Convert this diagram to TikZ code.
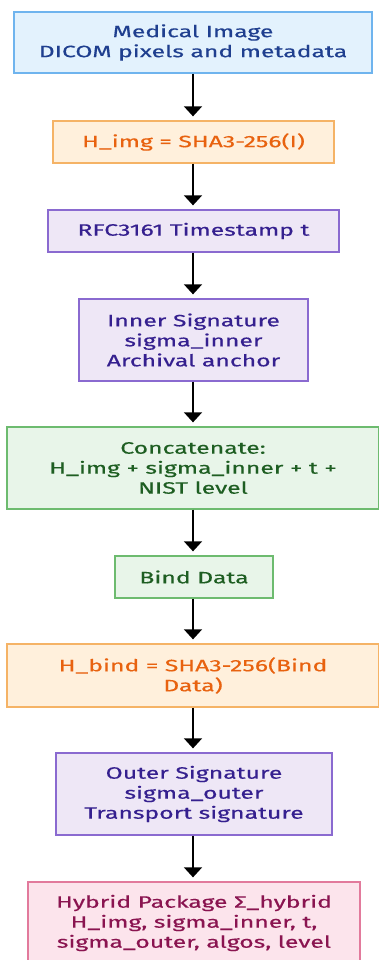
\documentclass[tikz,border=0pt]{standalone}
\usepackage{fontspec}
\setmainfont[FakeStretch=1.5,FakeBold=0.35]{Fira Sans}
\usetikzlibrary{arrows.meta}
\definecolor{bluefill}{HTML}{E3F2FD}
\definecolor{blueline}{HTML}{6FB4EE}
\definecolor{bluetext}{HTML}{1F3F8F}
\definecolor{orfill}{HTML}{FFF0DC}
\definecolor{orline}{HTML}{F5B366}
\definecolor{ortext}{HTML}{E8620F}
\definecolor{pufill}{HTML}{EEE7F6}
\definecolor{puline}{HTML}{8A6AD0}
\definecolor{putext}{HTML}{35208F}
\definecolor{grfill}{HTML}{E8F5E9}
\definecolor{grline}{HTML}{6DBB6F}
\definecolor{grtext}{HTML}{1E5E22}
\definecolor{pkfill}{HTML}{FCE4EC}
\definecolor{pkline}{HTML}{E27A9C}
\definecolor{pktext}{HTML}{8A1450}
\tikzset{
  box/.style={draw, line width=1.3pt, align=center, inner sep=0pt,
    font=\fontsize{16.5}{20}\selectfont},
  bluebox/.style={box, fill=bluefill, draw=blueline, text=bluetext},
  orbox/.style={box, fill=orfill, draw=orline, text=ortext},
  pubox/.style={box, fill=pufill, draw=puline, text=putext},
  grbox/.style={box, fill=grfill, draw=grline, text=grtext},
  pkbox/.style={box, fill=pkfill, draw=pkline, text=pktext},
  flow/.style={line width=1.5pt, -{Triangle[width=18pt,length=10pt]}, shorten >=4pt}
}
\begin{document}
\begin{tikzpicture}[x=1pt,y=1pt]
\useasboundingbox[fill=white] (0,0) rectangle (378,-960);
\node[bluebox, minimum width=358pt, minimum height=61pt] (n1) at (193,-42.5) {Medical Image\\DICOM pixels and metadata};
\node[orbox, minimum width=281pt, minimum height=42pt] (n2) at (193.5,-142) {H\_img = SHA3-256(I)};
\node[pubox, minimum width=291pt, minimum height=42pt] (n3) at (193.5,-231) {RFC3161 Timestamp t};
\node[pubox, minimum width=229pt, minimum height=82pt] (n4) at (193.5,-340) {Inner Signature\\sigma\_inner\\Archival anchor};
\node[grbox, minimum width=372pt, minimum height=82pt] (n5) at (193,-468) {Concatenate:\\H\_img + sigma\_inner + t +\\NIST level};
\node[grbox, minimum width=158pt, minimum height=42pt] (n6) at (194,-577) {Bind Data};
\node[orbox, minimum width=372pt, minimum height=63pt] (n7) at (193,-675.5) {H\_bind = SHA3-256(Bind\\Data)};
\node[pubox, minimum width=276pt, minimum height=82pt] (n8) at (194,-794) {Outer Signature\\sigma\_outer\\Transport signature};
\node[pkbox, minimum width=332pt, minimum height=82pt] (n9) at (194,-923) {Hybrid Package Σ\_hybrid\\H\_img, sigma\_inner, t,\\sigma\_outer, algos, level};
\draw[flow] (n1.south -| 193,0) -- (n2.north -| 193,0);
\draw[flow] (n2.south -| 193,0) -- (n3.north -| 193,0);
\draw[flow] (n3.south -| 193,0) -- (n4.north -| 193,0);
\draw[flow] (n4.south -| 193,0) -- (n5.north -| 193,0);
\draw[flow] (n5.south -| 193,0) -- (n6.north -| 193,0);
\draw[flow] (n6.south -| 193,0) -- (n7.north -| 193,0);
\draw[flow] (n7.south -| 193,0) -- (n8.north -| 193,0);
\draw[flow] (n8.south -| 193,0) -- (n9.north -| 193,0);
\end{tikzpicture}
\end{document}
